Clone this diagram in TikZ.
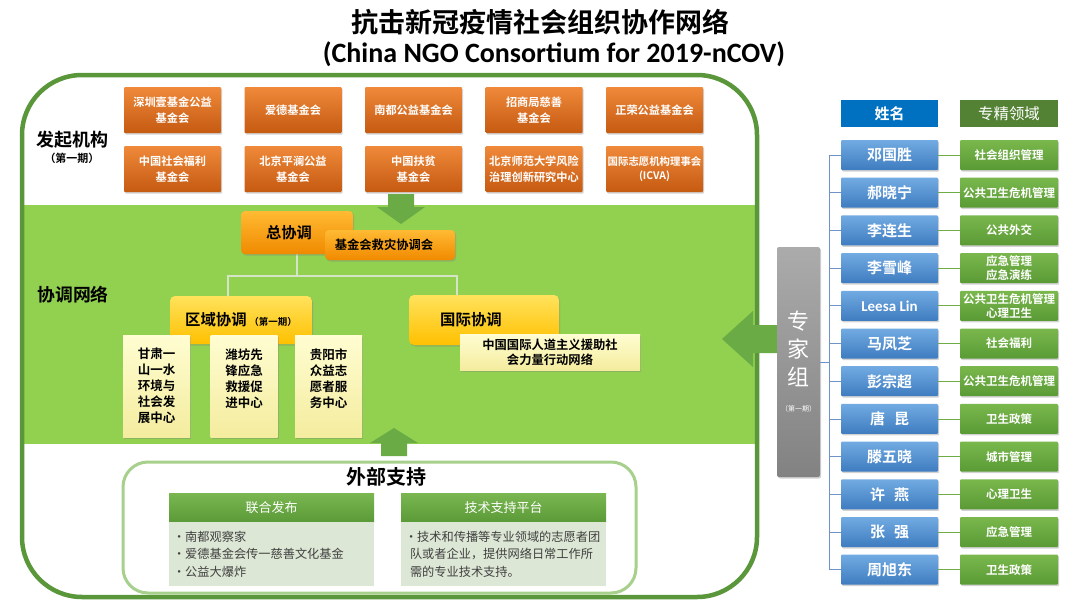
\documentclass[tikz,border=0pt]{standalone}
\usepackage{fontspec}
\setmainfont{Noto Sans CJK SC}[BoldFont={* Bold}]
\newfontfamily\latinfont{Carlito}
\usetikzlibrary{shadows}

\definecolor{frameGreen}{HTML}{5A963A}
\definecolor{bandGreen}{HTML}{92D050}
\definecolor{arrowGreen}{HTML}{6AAB45}
\definecolor{orgTop}{HTML}{F0893A}
\definecolor{orgBot}{HTML}{C55A11}
\definecolor{goldTop}{HTML}{FFBA33}
\definecolor{goldBot}{HTML}{F08A00}
\definecolor{yelTop}{HTML}{FFE25C}
\definecolor{yelBot}{HTML}{FFC000}
\definecolor{paleTop}{HTML}{FFFDD2}
\definecolor{paleBot}{HTML}{F4EC9E}
\definecolor{connGrey}{HTML}{D5E3C7}
\definecolor{extGreen}{HTML}{A8D08D}
\definecolor{hdrTop}{HTML}{7AB751}
\definecolor{hdrBot}{HTML}{5B9A38}
\definecolor{bodyGreen}{HTML}{DDE7D5}
\definecolor{bodyText}{HTML}{404040}
\definecolor{nameHdr}{HTML}{0070C0}
\definecolor{fieldHdr}{HTML}{548235}
\definecolor{nameTop}{HTML}{72ABE2}
\definecolor{nameBot}{HTML}{3E7CC0}
\definecolor{fieldTop}{HTML}{7AB84D}
\definecolor{fieldBot}{HTML}{5A9A35}
\definecolor{greyTop}{HTML}{ABABAB}
\definecolor{greyBot}{HTML}{828282}
\definecolor{treeBlue}{HTML}{6F93C9}
\definecolor{linkGreen}{HTML}{70AD47}

\tikzset{
  boxshadow/.style={drop shadow={shadow xshift=1.2pt,shadow yshift=-1.5pt,opacity=.35}},
  orgbox/.style={boxshadow, rounded corners=1pt, top color=orgTop, bottom color=orgBot,
    text=white, align=center, inner sep=0pt, minimum width=97pt, minimum height=46pt,
    font=\bfseries\fontsize{11.2}{16}\selectfont},
  goldbox/.style={boxshadow, rounded corners=4pt, top color=goldTop, bottom color=goldBot,
    align=center, inner sep=0pt},
  yelbox/.style={boxshadow, rounded corners=5pt, top color=yelTop, bottom color=yelBot,
    align=center, inner sep=0pt, font=\bfseries\fontsize{15.4}{18}\selectfont},
  palebox/.style={boxshadow, top color=paleTop, bottom color=paleBot, align=center,
    inner sep=0pt, font=\bfseries\fontsize{12.5}{16}\selectfont},
  hdrbox/.style={top color=hdrTop, bottom color=hdrBot, text=white, inner sep=0pt,
    minimum width=205pt, minimum height=29pt, font=\fontsize{13}{16}\selectfont},
  bodybox/.style={fill=bodyGreen, text=bodyText, align=left, inner sep=0pt,
    text width=197pt, minimum width=205pt, minimum height=64pt,
    font=\fontsize{12.2}{17.5}\selectfont},
  namebox/.style={boxshadow, rounded corners=1pt, top color=nameTop, bottom color=nameBot,
    text=white, inner sep=0pt, minimum width=97pt, minimum height=30pt,
    font=\bfseries\fontsize{15}{18}\selectfont},
  fieldbox/.style={boxshadow, rounded corners=1pt, top color=fieldTop, bottom color=fieldBot,
    text=white, align=center, inner sep=0pt, minimum width=98pt, minimum height=30pt,
    font=\bfseries\fontsize{11.5}{13.5}\selectfont},
  conn/.style={connGrey, line width=2.6pt},
  tree/.style={treeBlue, line width=0.8pt},
  link/.style={linkGreen, line width=0.8pt}
}

\begin{document}
\begin{tikzpicture}[x=1pt,y=-1pt]
\useasboundingbox (0,0) rectangle (1080,608);
\fill[white] (0,0) rectangle (1080,608);

% title
\node (t1) at (540,22) {\bfseries\fontsize{27}{30}\selectfont 抗击新冠疫情社会组织协作网络};
\node (t2) at (554,54) {\latinfont\bfseries\fontsize{28}{30}\selectfont (China NGO Consortium for 2019-nCOV)};

% band and frame
\fill[bandGreen] (24,205) rectangle (755,444);
\draw[frameGreen, line width=4.5pt, rounded corners=60pt] (22,75) rectangle (757,597);

\node (l1) at (72,140) {\bfseries\fontsize{18}{20}\selectfont 发起机构};
\node (l2) at (72,158) {\bfseries\fontsize{11}{12}\selectfont （第一期）};
\node (l3) at (73,295) {\bfseries\fontsize{17.8}{20}\selectfont 协调网络};

% founders
\node[orgbox] (o1) at (172.5,110) {深圳壹基金公益\\基金会};
\node[orgbox] (o2) at (293,110) {爱德基金会};
\node[orgbox] (o3) at (413.5,110) {南都公益基金会};
\node[orgbox] (o4) at (534,110) {招商局慈善\\基金会};
\node[orgbox] (o5) at (654.5,110) {正荣公益基金会};
\node[orgbox] (o6) at (172.5,169) {中国社会福利\\基金会};
\node[orgbox] (o7) at (293,169) {北京平澜公益\\基金会};
\node[orgbox] (o8) at (413.5,169) {中国扶贫\\基金会};
\node[orgbox] (o9) at (534,169) {北京师范大学风险\\治理创新研究中心};
\node[orgbox, font=\bfseries\fontsize{10.4}{14}\selectfont] (o10) at (654.5,169) {国际志愿机构理事会\\(ICVA)};

% block arrows
\fill[arrowGreen] (388,194) -- (414,194) -- (414,207) -- (425,207) -- (401,224) -- (377,207) -- (388,207) -- cycle;
\fill[arrowGreen] (381,456) -- (407,456) -- (407,443) -- (418,443) -- (394,428) -- (370,443) -- (381,443) -- cycle;
\fill[arrowGreen] (779,325) -- (753,325) -- (753,311) -- (722,339) -- (753,367) -- (753,353) -- (779,353) -- cycle;

% coordination
\draw[conn] (297,254) -- ++(0,22);
\draw[conn] (228,296) -- ++(0,-20) -| (457,296);
\node[goldbox, minimum width=112pt, minimum height=43pt, font=\bfseries\fontsize{15.3}{18}\selectfont] (zx) at (297,232.5) {总协调\hspace{16pt}};
\node[goldbox, minimum width=130pt, minimum height=30pt, font=\bfseries\fontsize{12.3}{15}\selectfont] (jj) at (390,245) {基金会救灾协调会\hspace{12pt}};
\node[yelbox, minimum width=142pt, minimum height=48pt] (qy) at (241,320) {区域协调\,{\fontsize{9.5}{10}\selectfont （第一期）}};
\node[yelbox, minimum width=150pt, minimum height=50pt] (gj) at (484,320) {国际协调\hspace{26pt}};
\node[palebox, minimum width=67pt, minimum height=102pt] (p1) at (156.5,386) {甘肃一\\山一水\\环境与\\社会发\\展中心};
\node[palebox, minimum width=67pt, minimum height=102pt] (p2) at (244,386) {潍坊先\\锋应急\\救援促\\进中心\\\mbox{}};
\node[palebox, minimum width=67pt, minimum height=102pt] (p3) at (328.5,386) {贵阳市\\众益志\\愿者服\\务中心\\\mbox{}};
\node[palebox, minimum width=180pt, minimum height=36pt, font=\bfseries\fontsize{12.3}{15}\selectfont] (gp) at (550,352) {中国国际人道主义援助社\\会力量行动网络};

% external support
\draw[extGreen, line width=3pt, rounded corners=25pt] (123,462) rectangle (636,593);
\node (ws) at (386,477) {\bfseries\fontsize{20}{22}\selectfont 外部支持};
\node[hdrbox] (h1) at (271.5,507.5) {联合发布};
\node[bodybox] (b1) at (271.5,554) {•南都观察家\\•爱德基金会传一慈善文化基金\\•公益大爆炸};
\node[hdrbox] (h2) at (503.5,507.5) {技术支持平台};
\node[bodybox] (b2) at (503.5,554) {•技术和传播等专业领域的志愿者团\\\hspace*{5pt}队或者企业，提供网络日常工作所\\\hspace*{5pt}需的专业技术支持。};

% experts
\node[boxshadow, rounded corners=2pt, top color=greyTop, bottom color=greyBot, text=white, align=center,
  inner sep=0pt, minimum width=43pt, minimum height=230pt, font=\fontsize{22}{28}\selectfont] (zj) at (798.5,362)
  {专\\家\\组\\[-2pt]{\fontsize{7}{8}\selectfont （第一期）}};
\node[fill=nameHdr, text=white, inner sep=0pt, minimum width=97pt, minimum height=27pt, font=\bfseries\fontsize{15}{18}\selectfont] (hn) at (889.5,113.5) {姓名};
\node[fill=fieldHdr, text=white, inner sep=0pt, minimum width=98pt, minimum height=27pt, font=\fontsize{15.4}{18}\selectfont] (hf) at (1009,113.5) {专精领域};

\node[namebox] (n1) at (889.5,155) {邓国胜};
\node[namebox] (n2) at (889.5,192.7) {郝晓宁};
\node[namebox] (n3) at (889.5,230.4) {李连生};
\node[namebox] (n4) at (889.5,268.1) {李雪峰};
\node[namebox] (n5) at (889.5,305.8) {\latinfont Leesa Lin};
\node[namebox] (n6) at (889.5,343.5) {马凤芝};
\node[namebox] (n7) at (889.5,381.2) {彭宗超};
\node[namebox] (n8) at (889.5,418.9) {唐\hspace{0.6em}昆};
\node[namebox] (n9) at (889.5,456.6) {滕五晓};
\node[namebox] (n10) at (889.5,494.3) {许\hspace{0.6em}燕};
\node[namebox] (n11) at (889.5,532) {张\hspace{0.6em}强};
\node[namebox] (n12) at (889.5,569.7) {周旭东};

\node[fieldbox] (f1) at (1009,155) {社会组织管理};
\node[fieldbox] (f2) at (1009,192.7) {公共卫生危机管理};
\node[fieldbox] (f3) at (1009,230.4) {公共外交};
\node[fieldbox] (f4) at (1009,268.1) {应急管理\\应急演练};
\node[fieldbox] (f5) at (1009,305.8) {公共卫生危机管理\\心理卫生};
\node[fieldbox] (f6) at (1009,343.5) {社会福利};
\node[fieldbox] (f7) at (1009,381.2) {公共卫生危机管理};
\node[fieldbox] (f8) at (1009,418.9) {卫生政策};
\node[fieldbox] (f9) at (1009,456.6) {城市管理};
\node[fieldbox] (f10) at (1009,494.3) {心理卫生};
\node[fieldbox] (f11) at (1009,532) {应急管理};
\node[fieldbox] (f12) at (1009,569.7) {卫生政策};

\draw[tree] (zj.east) -- ++(10,0);
\draw[tree] (n1.west) -- ++(-11,0) |- (n12.west);
\draw[tree] (n2.west) -- ++(-11,0);
\draw[tree] (n3.west) -- ++(-11,0);
\draw[tree] (n4.west) -- ++(-11,0);
\draw[tree] (n5.west) -- ++(-11,0);
\draw[tree] (n6.west) -- ++(-11,0);
\draw[tree] (n7.west) -- ++(-11,0);
\draw[tree] (n8.west) -- ++(-11,0);
\draw[tree] (n9.west) -- ++(-11,0);
\draw[tree] (n10.west) -- ++(-11,0);
\draw[tree] (n11.west) -- ++(-11,0);

\draw[link] (n1) -- (f1);
\draw[link] (n2) -- (f2);
\draw[link] (n3) -- (f3);
\draw[link] (n4) -- (f4);
\draw[link] (n5) -- (f5);
\draw[link] (n6) -- (f6);
\draw[link] (n7) -- (f7);
\draw[link] (n8) -- (f8);
\draw[link] (n9) -- (f9);
\draw[link] (n10) -- (f10);
\draw[link] (n11) -- (f11);
\draw[link] (n12) -- (f12);
\end{tikzpicture}
\end{document}
